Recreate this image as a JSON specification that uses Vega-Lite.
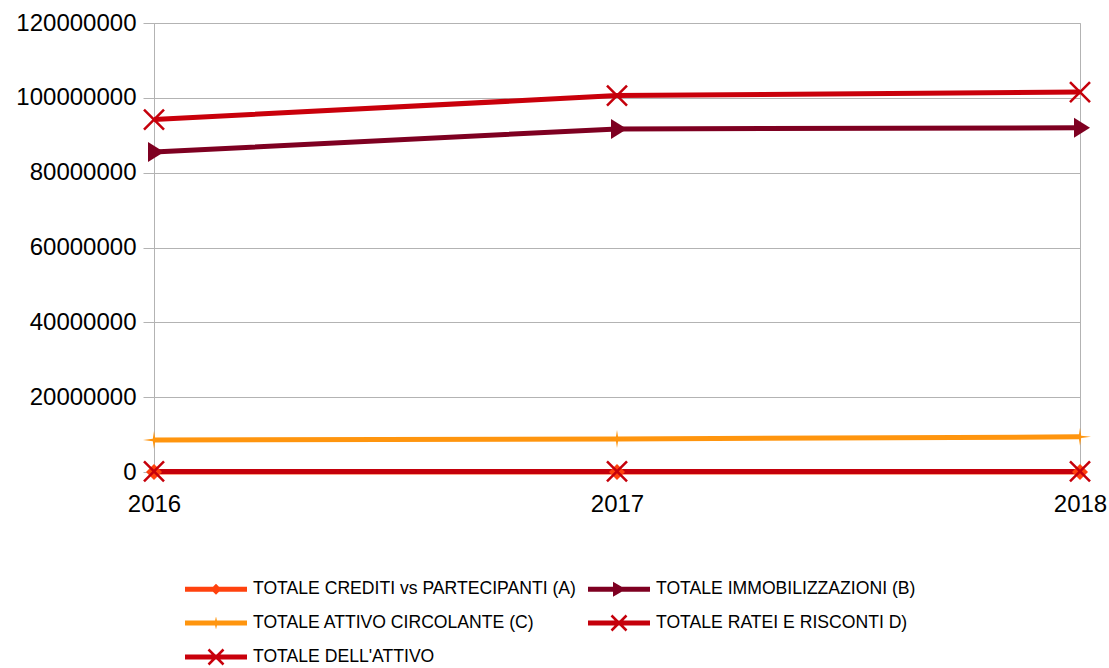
{
  "$schema": "https://vega.github.io/schema/vega-lite/v6.json",
  "width": 926,
  "height": 449,
  "autosize": {"type": "none"},
  "padding": {"left": 154, "top": 23, "right": 29, "bottom": 196},
  "config": {"font": "Liberation Sans", "view": {"stroke": "#b3b3b3", "strokeWidth": 1}},
  "data": {"values": [
    {"anno": 2016, "serie": "TOTALE CREDITI vs PARTECIPANTI (A)", "valore": 0},
    {"anno": 2017, "serie": "TOTALE CREDITI vs PARTECIPANTI (A)", "valore": 0},
    {"anno": 2018, "serie": "TOTALE CREDITI vs PARTECIPANTI (A)", "valore": 0},
    {"anno": 2016, "serie": "TOTALE IMMOBILIZZAZIONI (B)", "valore": 85500000},
    {"anno": 2017, "serie": "TOTALE IMMOBILIZZAZIONI (B)", "valore": 91700000},
    {"anno": 2018, "serie": "TOTALE IMMOBILIZZAZIONI (B)", "valore": 92000000},
    {"anno": 2016, "serie": "TOTALE ATTIVO CIRCOLANTE (C)", "valore": 8550000},
    {"anno": 2017, "serie": "TOTALE ATTIVO CIRCOLANTE (C)", "valore": 8800000},
    {"anno": 2018, "serie": "TOTALE ATTIVO CIRCOLANTE (C)", "valore": 9400000},
    {"anno": 2016, "serie": "TOTALE RATEI E RISCONTI  D)", "valore": 150000},
    {"anno": 2017, "serie": "TOTALE RATEI E RISCONTI  D)", "valore": 150000},
    {"anno": 2018, "serie": "TOTALE RATEI E RISCONTI  D)", "valore": 150000},
    {"anno": 2016, "serie": "TOTALE DELL'ATTIVO", "valore": 94200000},
    {"anno": 2017, "serie": "TOTALE DELL'ATTIVO", "valore": 100600000},
    {"anno": 2018, "serie": "TOTALE DELL'ATTIVO", "valore": 101550000}
  ]},
  "encoding": {
    "x": {
      "field": "anno", "type": "ordinal",
      "scale": {"type": "point", "padding": 0},
      "axis": {"title": null, "grid": false, "ticks": false, "domain": false, "labelAngle": 0,
        "labelFontSize": 24, "labelPadding": 20, "labelColor": "#000000", "labelOverlap": false, "labelBound": false}
    },
    "y": {
      "field": "valore", "type": "quantitative",
      "scale": {"domain": [0, 120000000], "nice": false},
      "axis": {"values": [0, 20000000, 40000000, 60000000, 80000000, 100000000, 120000000], "format": "d", "title": null,
        "grid": true, "gridColor": "#b3b3b3", "tickColor": "#b3b3b3", "tickSize": 11, "domainColor": "#b3b3b3",
        "labelFontSize": 24, "labelPadding": 7, "labelColor": "#000000", "labelOverlap": false}
    }
  },
  "layer": [
    {"transform": [{"filter": "datum.serie === 'TOTALE CREDITI vs PARTECIPANTI (A)'"}], "mark": {"type": "line", "strokeWidth": 5, "color": "#ff420e"}},
    {"transform": [{"filter": "datum.serie === 'TOTALE IMMOBILIZZAZIONI (B)'"}], "mark": {"type": "line", "strokeWidth": 5, "color": "#7e0021"}},
    {"transform": [{"filter": "datum.serie === 'TOTALE ATTIVO CIRCOLANTE (C)'"}], "mark": {"type": "line", "strokeWidth": 5, "color": "#ff950e"}},
    {"transform": [{"filter": "datum.serie === 'TOTALE RATEI E RISCONTI  D)'"}], "mark": {"type": "line", "strokeWidth": 5, "color": "#c5000b"}},
    {"transform": [{"filter": "datum.serie === \"TOTALE DELL'ATTIVO\""}], "mark": {"type": "line", "strokeWidth": 5, "color": "#c9000b"}},
    {
      "transform": [{"filter": "datum.serie === 'TOTALE CREDITI vs PARTECIPANTI (A)'"}],
      "mark": {"type": "point", "filled": true, "size": 400, "opacity": 1, "strokeWidth": 0, "color": "#ff420e", "shape": "M0,-0.8L0.8,0L0,0.8L-0.8,0Z"}
    },
    {
      "transform": [{"filter": "datum.serie === 'TOTALE IMMOBILIZZAZIONI (B)'"}],
      "mark": {"type": "point", "filled": true, "size": 400, "opacity": 1, "strokeWidth": 0, "color": "#7e0021", "shape": "M-0.6,-1L1,0L-0.6,1Z"}
    },
    {
      "transform": [{"filter": "datum.serie === 'TOTALE ATTIVO CIRCOLANTE (C)'"}],
      "mark": {"type": "point", "filled": true, "size": 400, "opacity": 1, "strokeWidth": 0, "color": "#ff950e", "shape": "M0,-0.9L0.12,-0.12L1.1,0L0.12,0.12L0,0.9L-0.12,0.12L-1.1,0L-0.12,-0.12Z"}
    },
    {
      "transform": [{"filter": "datum.serie === 'TOTALE RATEI E RISCONTI  D)' || datum.serie === \"TOTALE DELL'ATTIVO\""}],
      "mark": {"type": "point", "filled": true, "size": 400, "opacity": 1, "strokeWidth": 0, "color": "#c5000b", "shape": "M-0.91,-1.09L1.09,0.91L0.91,1.09L-1.09,-0.91Z M-0.91,1.09L-1.09,0.91L0.91,-1.09L1.09,-0.91Z"}
    },
    {
      "transform": [{"filter": "datum.valore < 0"}],
      "mark": {"type": "point", "filled": true, "size": 400, "opacity": 1, "strokeWidth": 0},
      "encoding": {
        "color": {
          "field": "serie", "type": "nominal",
          "scale": {
            "domain": ["TOTALE CREDITI vs PARTECIPANTI (A)", "TOTALE IMMOBILIZZAZIONI (B)", "TOTALE ATTIVO CIRCOLANTE (C)", "TOTALE RATEI E RISCONTI  D)", "TOTALE DELL'ATTIVO"],
            "range": ["#ff420e", "#7e0021", "#ff950e", "#c5000b", "#c9000b"]
          },
          "legend": {
            "title": null, "orient": "none", "legendX": 52, "legendY": 556, "columns": 2, "direction": "horizontal",
            "symbolSize": 400, "symbolStrokeWidth": 0, "symbolOpacity": 1, "labelFontSize": 17.6, "labelFont": "Liberation Sans", "labelColor": "#000000", "labelLimit": 500,
            "labelOffset": 27, "columnPadding": 12, "rowPadding": 15
          }
        },
        "shape": {
          "field": "serie", "type": "nominal",
          "scale": {
            "domain": ["TOTALE CREDITI vs PARTECIPANTI (A)", "TOTALE IMMOBILIZZAZIONI (B)", "TOTALE ATTIVO CIRCOLANTE (C)", "TOTALE RATEI E RISCONTI  D)", "TOTALE DELL'ATTIVO"],
            "range": [
              "M-3.1,-0.25L3.1,-0.25L3.1,0.25L-3.1,0.25Z M0,-0.55L0.55,0L0,0.55L-0.55,0Z",
              "M-3.1,-0.25L3.1,-0.25L3.1,0.25L-3.1,0.25Z M-0.6,-0.75L0.7,0L-0.6,0.75Z",
              "M-3.1,-0.25L3.1,-0.25L3.1,0.25L-3.1,0.25Z M0,-0.65L0.15,0L0,0.65L-0.15,0Z",
              "M-3.1,-0.25L3.1,-0.25L3.1,0.25L-3.1,0.25Z M-0.66,-0.84L0.84,0.66L0.66,0.84L-0.84,-0.66Z M-0.66,0.84L-0.84,0.66L0.66,-0.84L0.84,-0.66Z",
              "M-3.1,-0.25L3.1,-0.25L3.1,0.25L-3.1,0.25Z M-0.66,-0.84L0.84,0.66L0.66,0.84L-0.84,-0.66Z M-0.66,0.84L-0.84,0.66L0.66,-0.84L0.84,-0.66Z"
            ]
          },
          "legend": {
            "title": null, "orient": "none", "legendX": 52, "legendY": 556, "columns": 2, "direction": "horizontal",
            "symbolSize": 400, "symbolStrokeWidth": 0, "symbolOpacity": 1, "labelFontSize": 17.6, "labelFont": "Liberation Sans", "labelColor": "#000000", "labelLimit": 500,
            "labelOffset": 27, "columnPadding": 12, "rowPadding": 15
          }
        }
      }
    }
  ]
}
